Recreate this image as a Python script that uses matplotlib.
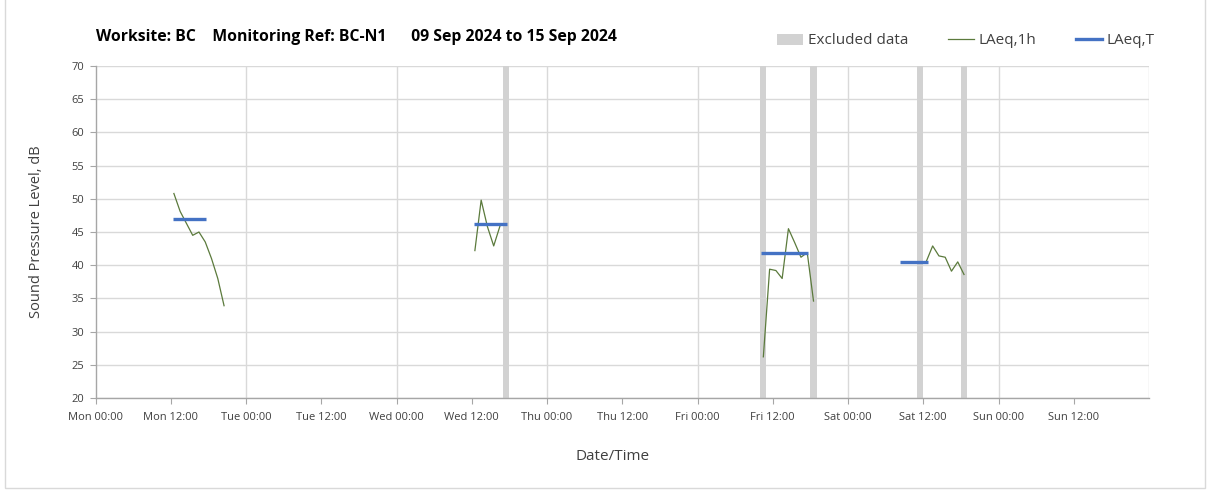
import matplotlib
matplotlib.use("Agg")
import matplotlib.pyplot as plt
from matplotlib.patches import Patch, Rectangle
from matplotlib.lines import Line2D

# ---- data (hours since Mon 00:00) ----
mon_t = [12.5, 13.5, 14.5, 15.5, 16.5, 17.5, 18.5, 19.5, 20.5]
mon_laeq1h = [50.8, 48.1, 46.3, 44.5, 45.0, 43.5, 41.0, 38.0, 33.9]
wed_t = [60.5, 61.5, 62.5, 63.5, 64.5]
wed_laeq1h = [42.2, 49.8, 45.8, 42.9, 45.9]
fri_t = [106.5, 107.5, 108.5, 109.5, 110.5, 111.5, 112.5, 113.5, 114.5]
fri_laeq1h = [26.2, 39.4, 39.2, 38.0, 45.5, 43.4, 41.2, 41.9, 34.6]
sat_t = [132.5, 133.5, 134.5, 135.5, 136.5, 137.5, 138.5]
sat_laeq1h = [40.6, 42.9, 41.4, 41.2, 39.1, 40.5, 38.6]

laeqT_start = [12.4, 60.4, 106.2, 128.3]
laeqT_end = [17.7, 65.7, 113.7, 132.7]
laeqT_val = [47.0, 46.2, 41.9, 40.5]

excluded_start = [65, 106, 114, 131, 138]
excluded_width = 1.0

tick_hours = [0, 12, 24, 36, 48, 60, 72, 84, 96, 108, 120, 132, 144, 156]
tick_labels = ["Mon 00:00", "Mon 12:00", "Tue 00:00", "Tue 12:00", "Wed 00:00",
               "Wed 12:00", "Thu 00:00", "Thu 12:00", "Fri 00:00", "Fri 12:00",
               "Sat 00:00", "Sat 12:00", "Sun 00:00", "Sun 12:00"]
y_ticks = [20, 25, 30, 35, 40, 45, 50, 55, 60, 65, 70]

title = "Worksite: BC    Monitoring Ref: BC-N1      09 Sep 2024 to 15 Sep 2024"

GREEN = "#5b7a3c"
BLUE = "#4472C4"
GREY_BAR = "#d2d2d2"
GRID = "#d9d9d9"
AXIS = "#a6a6a6"

plt.rcParams['font.family'] = ['Open Sans', 'DejaVu Sans']

W, H = 1208, 492
fig = plt.figure(figsize=(W / 100, H / 100), dpi=100)
fig.patch.set_facecolor("white")

L, R, T, B = 95.5, 1149, 66, 398
ax = fig.add_axes([L / W, 1 - B / H, (R - L) / W, (B - T) / H])

ax.set_xlim(0, 168)
ax.set_ylim(20, 70)

# excluded data bars
ax.bar(excluded_start, [70 - 20] * len(excluded_start), bottom=20,
       width=excluded_width, align='edge', color=GREY_BAR, zorder=2,
       linewidth=0)

# LAeq,1h lines
for t, v in [(mon_t, mon_laeq1h), (wed_t, wed_laeq1h), (fri_t, fri_laeq1h), (sat_t, sat_laeq1h)]:
    ax.plot(t, v, color=GREEN, lw=0.9, zorder=3)

# LAeq,T lines
for s, e, v in zip(laeqT_start, laeqT_end, laeqT_val):
    ax.plot([s, e], [v, v], color=BLUE, lw=2.4, solid_capstyle='butt', zorder=4)

# grid
ax.set_yticks(y_ticks)
ax.set_yticklabels([str(v) for v in y_ticks])
ax.set_xticks(tick_hours)
ax.set_xticklabels(tick_labels)
for yv in y_ticks:
    ax.axhline(yv, color=GRID, lw=1.0, zorder=1)
for xv in range(24, 169, 24):
    ax.axvline(xv, color=GRID, lw=1.0, zorder=1)

for side in ['top', 'right']:
    ax.spines[side].set_visible(False)
for side in ['left', 'bottom']:
    ax.spines[side].set_color(AXIS)
    ax.spines[side].set_linewidth(1.0)
    ax.spines[side].set_zorder(5)

ax.tick_params(axis='both', direction='out', length=4, width=0.8, color=AXIS,
               labelsize=8, labelcolor='#404040')
ax.tick_params(axis='x', pad=6)
ax.tick_params(axis='y', pad=4)

# texts
fig.text(96 / W, 1 - 37 / H, title, fontsize=11.3, fontweight='bold',
         va='center', ha='left', color='black')
fig.text(37 / W, 1 - 232 / H, "Sound Pressure Level, dB", rotation=90,
         fontsize=10.5, va='center', ha='center', color='#404040')
fig.text(613 / W, 1 - 457 / H, "Date/Time", fontsize=11,
         va='center', ha='center', color='#404040')

# legend
handles = [Patch(facecolor=GREY_BAR, edgecolor='none', label='Excluded data'),
           Line2D([], [], color=GREEN, lw=0.9, label='LAeq,1h'),
           Line2D([], [], color=BLUE, lw=2.4, label='LAeq,T')]
leg = fig.legend(handles=handles, loc='center', ncol=3,
                 bbox_to_anchor=(966 / W, 1 - 41 / H), frameon=False,
                 fontsize=11, handlelength=1.7, handletextpad=0.3,
                 columnspacing=2.6, labelcolor='#404040')

# figure border
fig.add_artist(Rectangle((4.5 / W, 4.5 / H), (W - 8) / W, (H + 10) / H,
                         transform=fig.transFigure, fill=False,
                         edgecolor='#d9d9d9', lw=1.0))

fig.savefig("out.png", dpi=100)
